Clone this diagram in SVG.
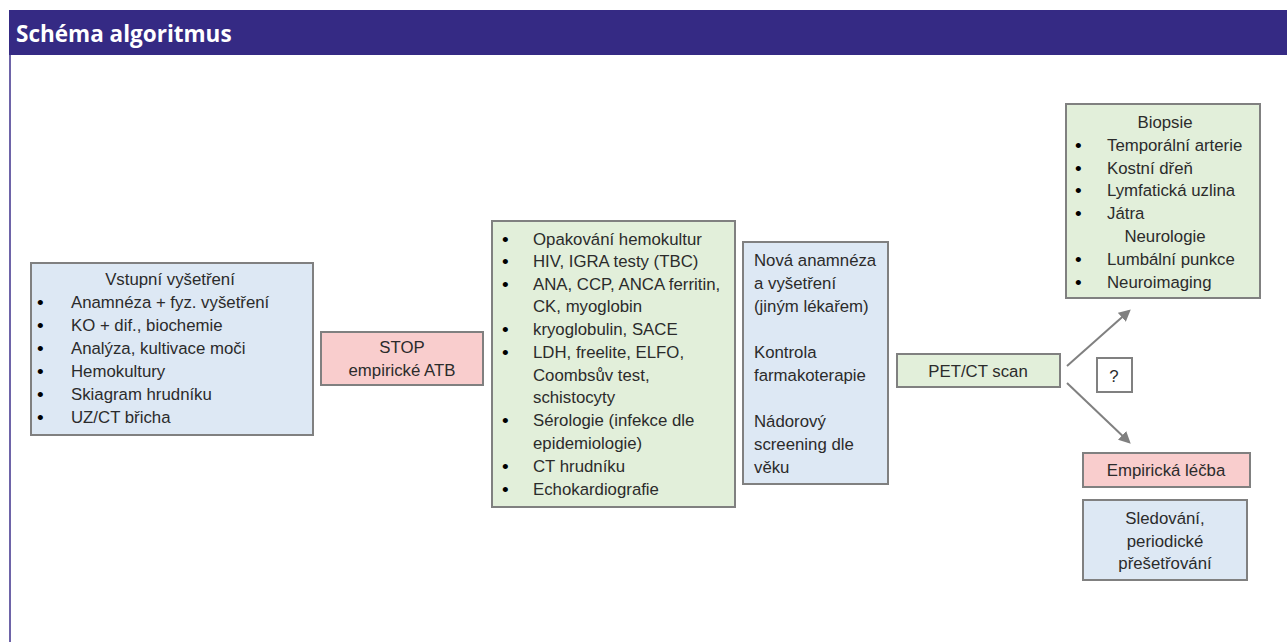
<svg xmlns="http://www.w3.org/2000/svg" width="1287" height="642" viewBox="0 0 1287 642">
<style>
text{font-family:"Liberation Sans",Arial,sans-serif;font-size:16.8px;fill:#2b2b2b}
.c{text-anchor:middle}
.b{font-size:19px;fill:#000000}
.box{stroke:#808080;stroke-width:2}
.blue{fill:#dde8f4}
.green{fill:#e2efda}
.pink{fill:#f9cdcd}
.white{fill:#ffffff}
.title{font-family:"Open Sans","Liberation Sans",sans-serif;font-weight:bold;font-size:22.5px;fill:#ffffff}
.conn{stroke:#808080;stroke-width:2;fill:none}
</style>
<defs>
<marker id="ah" viewBox="0 0 10 10" refX="8" refY="5" markerWidth="6" markerHeight="6" orient="auto" markerUnits="strokeWidth">
<path d="M0,0 L10,5 L0,10 z" fill="#808080"/>
</marker>
</defs>
<rect x="0" y="0" width="1287" height="642" fill="#ffffff"/>
<g id="header">
<rect x="9" y="10" width="1278" height="45" fill="#352a84"/>
<line x1="10" y1="55" x2="10" y2="642" stroke="#6e64a8" stroke-width="2"/>
<text class="title" x="16" y="42">Schéma algoritmus</text>
</g>
<g id="connectors">
<line class="conn" x1="1067" y1="366" x2="1129" y2="311" marker-end="url(#ah)"/>
<line class="conn" x1="1067" y1="383" x2="1129" y2="442" marker-end="url(#ah)"/>
</g>
<g id="vstupni">
<rect class="box blue" x="31" y="263" width="282" height="172"/>
<text class="c" x="170" y="285">Vstupní vyšetření</text>
<text class="b" x="37" y="309">•</text><text x="71" y="308">Anamnéza + fyz. vyšetření</text>
<text class="b" x="37" y="332">•</text><text x="71" y="331">KO + dif., biochemie</text>
<text class="b" x="37" y="355">•</text><text x="71" y="354">Analýza, kultivace moči</text>
<text class="b" x="37" y="378">•</text><text x="71" y="377">Hemokultury</text>
<text class="b" x="37" y="401">•</text><text x="71" y="400">Skiagram hrudníku</text>
<text class="b" x="37" y="424">•</text><text x="71" y="423">UZ/CT břicha</text>
</g>
<g id="stop">
<rect class="box pink" x="321" y="332" width="162" height="53"/>
<text class="c" x="402" y="353">STOP</text>
<text class="c" x="402" y="376">empirické ATB</text>
</g>
<g id="testy">
<rect class="box green" x="492" y="221" width="243" height="286"/>
<text class="b" x="502" y="246">•</text><text x="533" y="245">Opakování hemokultur</text>
<text class="b" x="502" y="268">•</text><text x="533" y="267">HIV, IGRA testy (TBC)</text>
<text class="b" x="502" y="291">•</text><text x="533" y="290">ANA, CCP, ANCA ferritin,</text>
<text x="533" y="312">CK, myoglobin</text>
<text class="b" x="502" y="336">•</text><text x="533" y="335">kryoglobulin, SACE</text>
<text class="b" x="502" y="359">•</text><text x="533" y="358">LDH, freelite, ELFO,</text>
<text x="533" y="381">Coombsův test,</text>
<text x="533" y="403">schistocyty</text>
<text class="b" x="502" y="427">•</text><text x="533" y="426">Sérologie (infekce dle</text>
<text x="533" y="449">epidemiologie)</text>
<text class="b" x="502" y="473">•</text><text x="533" y="472">CT hrudníku</text>
<text class="b" x="502" y="496">•</text><text x="533" y="495">Echokardiografie</text>
</g>
<g id="nova">
<rect class="box blue" x="743" y="242" width="145" height="242"/>
<text x="754" y="266">Nová anamnéza</text>
<text x="754" y="289">a vyšetření</text>
<text x="754" y="312">(jiným lékařem)</text>
<text x="754" y="358">Kontrola</text>
<text x="754" y="381">farmakoterapie</text>
<text x="754" y="427">Nádorový</text>
<text x="754" y="450">screening dle</text>
<text x="754" y="473">věku</text>
</g>
<g id="petct">
<rect class="box green" x="897" y="354" width="163" height="33"/>
<text class="c" x="978" y="377">PET/CT scan</text>
</g>
<g id="biopsie">
<rect class="box green" x="1066" y="104" width="194" height="194"/>
<text class="c" x="1165" y="128">Biopsie</text>
<text class="b" x="1075" y="152">•</text><text x="1107" y="151">Temporální arterie</text>
<text class="b" x="1075" y="175">•</text><text x="1107" y="174">Kostní dřeň</text>
<text class="b" x="1075" y="197">•</text><text x="1107" y="196">Lymfatická uzlina</text>
<text class="b" x="1075" y="220">•</text><text x="1107" y="219">Játra</text>
<text class="c" x="1165" y="242">Neurologie</text>
<text class="b" x="1075" y="266">•</text><text x="1107" y="265">Lumbální punkce</text>
<text class="b" x="1075" y="289">•</text><text x="1107" y="288">Neuroimaging</text>
</g>
<g id="otaznik">
<rect class="box white" x="1097" y="358" width="35" height="34"/>
<text class="c" x="1114" y="382">?</text>
</g>
<g id="empiricka">
<rect class="box pink" x="1083" y="453" width="167" height="34"/>
<text class="c" x="1166" y="476">Empirická léčba</text>
</g>
<g id="sledovani">
<rect class="box blue" x="1083" y="500" width="164" height="80"/>
<text class="c" x="1165" y="524">Sledování,</text>
<text class="c" x="1165" y="547">periodické</text>
<text class="c" x="1165" y="569">přešetřování</text>
</g>
</svg>
